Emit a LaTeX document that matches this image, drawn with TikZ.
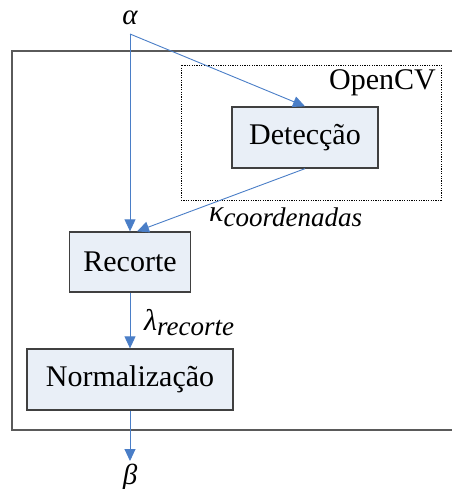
\documentclass[tikz,border=0pt]{standalone}
\usepackage{fontspec}
\setmainfont{Liberation Serif}
\usetikzlibrary{arrows.meta,calc}
\definecolor{arrowblue}{HTML}{4A7EC7}
\definecolor{boxfill}{HTML}{E9EFF7}
\definecolor{boxline}{HTML}{404040}
\definecolor{outerline}{HTML}{5A5A5A}
\tikzset{
  procbox/.style={draw=boxline, line width=1.3pt, fill=boxfill, inner sep=0pt,
    font=\fontsize{30}{34}\selectfont},
  flow/.style={draw=arrowblue, line width=0.9pt, -{Triangle[length=12pt,width=11pt]}},
  greek/.style={font=\fontsize{29}{32}\selectfont\itshape, inner sep=0pt},
  sublabel/.style={font=\fontsize{27}{30}\selectfont\itshape, inner sep=0pt, anchor=west},
}
\begin{document}
\begin{tikzpicture}[x=1pt,y=-1pt]
\useasboundingbox (0,0) rectangle (451,489);
% outer frame (right side runs off the page)
\draw[outerline, line width=1.3pt] (453,51) -- (12,51) -- (12,430) -- (453,430);
% OpenCV dotted region
\node[draw=black, dash pattern=on 1.2pt off 1.2pt, line width=0.9pt, minimum width=260pt, minimum height=135pt, inner sep=0pt] (ocv) at (311,132.5) {};
\node[font=\fontsize{30}{34}\selectfont, anchor=north east, inner sep=0pt] (ocvlabel) at (436,69) {OpenCV};
% process boxes
\node[procbox, minimum width=146pt, minimum height=61pt] (det) at (305,137.5) {Detecção};
\node[procbox, minimum width=121pt, minimum height=60pt] (rec) at (130,262) {Recorte};
\node[procbox, minimum width=206pt, minimum height=61pt] (norm) at (130,379.5) {Normalização};
% inputs / outputs
\node[greek] (alpha) at (130,18) {α};
\coordinate (a0) at (130,34);
\node[greek] (beta) at (130,477) {β};
\coordinate (b0) at (130,461);
% connectors
\draw[flow] (a0) -- (det.north);
\draw[flow] (a0) -- (rec.north);
\draw[flow] (det.south) -- ([xshift=7pt]rec.north);
\draw[flow] (rec.south) -- (norm.north);
\draw[flow] (norm.south) -- (b0);
% labels
\node[sublabel] (kappa) at (209,217) {{\fontsize{30}{32}\selectfont κ}\raisebox{-5pt}{coordenadas}};
\node[sublabel] (lambda) at (144,323) {{\fontsize{30}{32}\selectfont λ}\raisebox{-5pt}{recorte}};
\end{tikzpicture}
\end{document}
